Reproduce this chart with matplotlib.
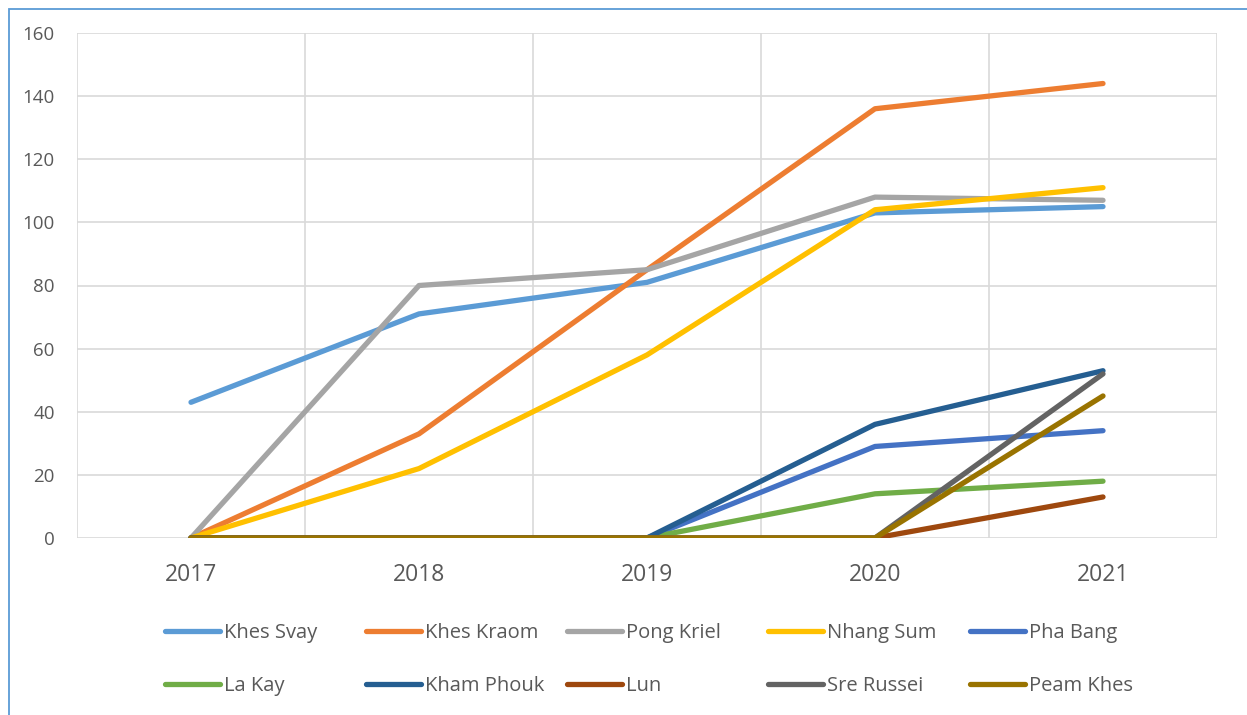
import matplotlib

matplotlib.use("Agg")
import matplotlib.pyplot as plt
import numpy as np
from matplotlib.lines import Line2D
from matplotlib.patches import Rectangle

years = ["2017", "2018", "2019", "2020", "2021"]

khes_svay = [43, 71, 81, 103, 105]
khes_kraom = [0, 33, 85, 136, 144]
pong_kriel = [0, 80, 85, 108, 107]
nhang_sum = [0, 22, 58, 104, 111]
pha_bang = [0, 0, 0, 29, 34]
la_kay = [0, 0, 0, 14, 18]
kham_phouk = [0, 0, 0, 36, 53]
lun = [0, 0, 0, 0, 13]
sre_russei = [0, 0, 0, 0, 52]
peam_khes = [0, 0, 0, 0, 45]

names = [
    "Khes Svay", "Khes Kraom", "Pong Kriel", "Nhang Sum", "Pha Bang",
    "La Kay", "Kham Phouk", "Lun", "Sre Russei", "Peam Khes",
]
series = [
    khes_svay, khes_kraom, pong_kriel, nhang_sum, pha_bang,
    la_kay, kham_phouk, lun, sre_russei, peam_khes,
]
colors = [
    "#5B9BD5", "#ED7D31", "#A5A5A5", "#FFC000", "#4472C4",
    "#70AD47", "#255E91", "#9E480E", "#636363", "#997300",
]

plt.rcParams["font.family"] = ["Open Sans", "DejaVu Sans"]
text_color = "#595959"
grid_color = "#D9D9D9"
lw = 3.8

W, H = 1247, 715
fig = plt.figure(figsize=(W / 100, H / 100), dpi=100)
ax = fig.add_axes([77 / W, 1 - 538 / H, (1217 - 77) / W, (538 - 33) / H])

x = np.arange(len(years))
for name, values, color in zip(names, series, colors):
    ax.plot(x, values, color=color, lw=lw, solid_capstyle="round",
            solid_joinstyle="round", label=name, zorder=3)

ax.set_xlim(-0.5, len(years) - 0.5)
ax.set_ylim(0, 160)
ax.set_yticks(np.arange(0, 161, 20))
ax.set_xticks(x)
ax.set_xticklabels(years)
ax.set_xticks(np.arange(-0.5, len(years), 1), minor=True)
ax.grid(axis="y", which="major", color=grid_color, lw=1.2, zorder=0)
ax.grid(axis="x", which="minor", color=grid_color, lw=1.2, zorder=0)
ax.tick_params(axis="both", which="both", length=0)
ax.tick_params(axis="y", labelsize=13.5, labelcolor=text_color, pad=16)
ax.tick_params(axis="x", labelsize=16.5, labelcolor=text_color, pad=18)
for spine in ax.spines.values():
    spine.set_visible(False)

# legend: five equal-width columns, two rows each
col_x = [165, 366, 567, 768, 970]
for c, left in enumerate(col_x):
    handles = [
        Line2D([], [], color=colors[c + r * 5], lw=lw, solid_capstyle="round")
        for r in range(2)
    ]
    labels = [names[c + r * 5] for r in range(2)]
    leg = fig.legend(
        handles, labels, loc="upper left",
        bbox_to_anchor=(left / W, 1 - 623 / H),
        frameon=False, fontsize=14.5, handlelength=2.75, handletextpad=0.2,
        labelspacing=1.65, borderpad=0, borderaxespad=0,
    )
    for t in leg.get_texts():
        t.set_color(text_color)

fig.add_artist(Rectangle((8.5 / W, -0.1), 1.2, 1 - 8.5 / H + 0.1,
                         transform=fig.transFigure, fill=False,
                         edgecolor="#5B9BD5", lw=1.3))

fig.savefig("out.png", dpi=100)
